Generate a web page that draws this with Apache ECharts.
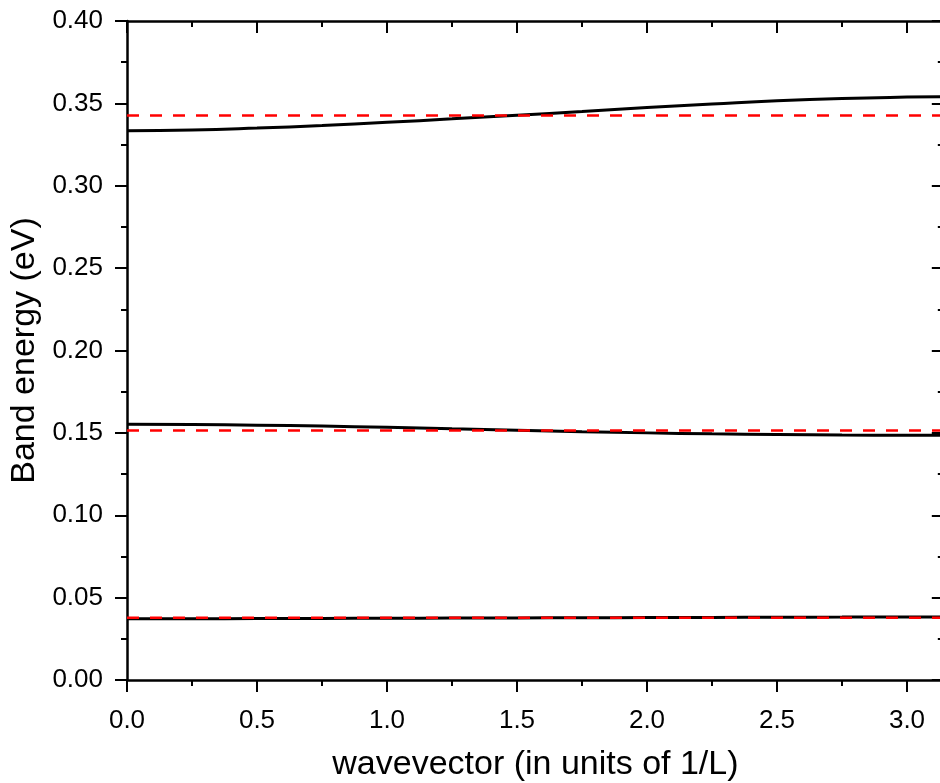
<!DOCTYPE html>
<html>
<head>
<meta charset="utf-8">
<script src="https://cdn.jsdelivr.net/npm/echarts@6/dist/echarts.min.js"></script>
<style>
  html, body { margin: 0; padding: 0; background: #fff; }
  #chart { width: 940px; height: 783px; }
</style>
</head>
<body>
<div id="chart"></div>
<script>
// Wavevector samples across the first Brillouin zone (0 .. pi/L)
const wavevector = [0, 0.25, 0.5, 0.75, 1.0, 1.25, 1.5, 1.75, 2.0, 2.25, 2.5, 2.75, 3.0, Math.PI];

// Computed band energies (eV)
const band1 = [0.0372, 0.0372, 0.0373, 0.0374, 0.0375, 0.0376, 0.0377, 0.0378, 0.0379, 0.0380, 0.0381, 0.0382, 0.0383, 0.0383];
const band2 = [0.1552, 0.1551, 0.1547, 0.1541, 0.1534, 0.1525, 0.1516, 0.1507, 0.1500, 0.1494, 0.1490, 0.1487, 0.1486, 0.1486];
const band3 = [0.3334, 0.3338, 0.3350, 0.3366, 0.3385, 0.3406, 0.3428, 0.3450, 0.3475, 0.3496, 0.3516, 0.3530, 0.3538, 0.3540];

// Flat reference levels (eV)
const levels = [0.0378, 0.1514, 0.3427];

const FONT = "'Liberation Sans', Arial, sans-serif";
const kMax = Math.PI;

function pairs(xs, ys) { return xs.map((x, i) => [x, ys[i]]); }

const bandSeries = [band1, band2, band3].map(b => ({
  type: 'line',
  data: pairs(wavevector, b),
  smooth: true,
  showSymbol: false,
  lineStyle: { color: '#000', width: 3 },
  z: 2
}));

const levelSeries = levels.map(v => ({
  type: 'line',
  data: [[0, v], [kMax, v]],
  showSymbol: false,
  lineStyle: { color: '#ff0000', width: 2.5, type: [12, 11] },
  z: 3
}));

const spine = { show: true, onZero: false, lineStyle: { color: '#000', width: 2.5 } };
const tickStyle = { color: '#000', width: 2 };

const chart = echarts.init(document.getElementById('chart'), null, { renderer: 'canvas' });
chart.setOption({
  animation: false,
  backgroundColor: '#fff',
  // the plot frame runs slightly past the right edge of the canvas
  grid: { left: 127, top: 21, width: kMax * 260, height: 659, containLabel: false, outerBoundsMode: 'none' },
  xAxis: [
    {
      type: 'value', position: 'bottom', min: 0, max: kMax, interval: 0.5,
      name: 'wavevector (in units of 1/L)', nameLocation: 'middle', nameGap: 68,
      nameTextStyle: { fontFamily: FONT, fontSize: 34, color: '#000' },
      axisLine: spine,
      axisTick: { show: true, inside: false, length: 12, lineStyle: tickStyle },
      minorTick: { show: true, splitNumber: 2, length: 6, lineStyle: tickStyle },
      axisLabel: { fontFamily: FONT, fontSize: 26, color: '#000', margin: 28, showMaxLabel: false,
                   formatter: v => v.toFixed(1) },
      splitLine: { show: false }
    },
    {
      type: 'value', position: 'top', min: 0, max: kMax, interval: 0.5,
      axisLine: spine,
      axisTick: { show: true, inside: true, length: 12, lineStyle: tickStyle },
      minorTick: { show: true, splitNumber: 2, length: 6, lineStyle: tickStyle },
      axisLabel: { show: false },
      splitLine: { show: false }
    }
  ],
  yAxis: [
    {
      type: 'value', position: 'left', min: 0, max: 0.4, interval: 0.05,
      name: 'Band energy (eV)', nameLocation: 'middle', nameGap: 80, nameRotate: 90,
      nameTextStyle: { fontFamily: FONT, fontSize: 34, color: '#000' },
      axisLine: spine,
      axisTick: { show: true, inside: false, length: 12, lineStyle: tickStyle },
      minorTick: { show: true, splitNumber: 2, length: 6, lineStyle: tickStyle },
      axisLabel: { fontFamily: FONT, fontSize: 26, color: '#000', margin: 24,
                   formatter: v => v.toFixed(2) },
      splitLine: { show: false }
    },
    {
      type: 'value', position: 'right', min: 0, max: 0.4, interval: 0.05,
      axisLine: spine,
      axisTick: { show: true, inside: true, length: 12, lineStyle: tickStyle },
      minorTick: { show: true, splitNumber: 2, length: 6, lineStyle: tickStyle },
      axisLabel: { show: false },
      splitLine: { show: false }
    }
  ],
  series: bandSeries.concat(levelSeries)
});
</script>
</body>
</html>
